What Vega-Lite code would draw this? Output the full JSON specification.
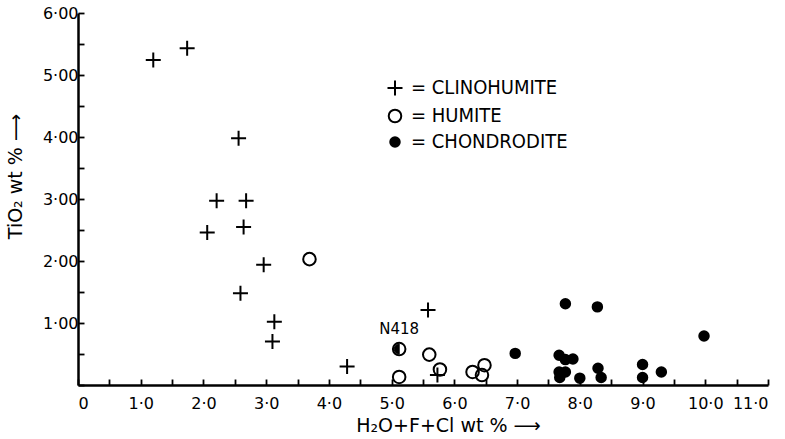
{
  "$schema": "https://vega.github.io/schema/vega-lite/v6.json",
  "width": 690,
  "height": 372,
  "autosize": {"type": "none"},
  "padding": {"left": 78, "top": 13, "right": 17, "bottom": 54},
  "config": {
    "view": {"stroke": null},
    "font": "DejaVu Sans",
    "axis": {
      "grid": false,
      "domainColor": "black",
      "domainWidth": 2.5,
      "tickColor": "black",
      "tickWidth": 1.8,
      "tickSize": -6,
      "labelColor": "black",
      "labelFont": "DejaVu Sans",
      "labelFontSize": 16,
      "titleColor": "black",
      "titleFont": "DejaVu Sans",
      "titleFontWeight": "normal",
      "titleFontSize": 19
    }
  },
  "data": {
    "values": [
      {"type": "Clinohumite", "x": 1.20, "y": 5.24, "label": ""},
      {"type": "Clinohumite", "x": 1.74, "y": 5.43, "label": ""},
      {"type": "Clinohumite", "x": 2.56, "y": 3.98, "label": ""},
      {"type": "Clinohumite", "x": 2.21, "y": 2.97, "label": ""},
      {"type": "Clinohumite", "x": 2.68, "y": 2.97, "label": ""},
      {"type": "Clinohumite", "x": 2.06, "y": 2.46, "label": ""},
      {"type": "Clinohumite", "x": 2.64, "y": 2.55, "label": ""},
      {"type": "Clinohumite", "x": 2.96, "y": 1.94, "label": ""},
      {"type": "Clinohumite", "x": 2.59, "y": 1.48, "label": ""},
      {"type": "Clinohumite", "x": 3.13, "y": 1.02, "label": ""},
      {"type": "Clinohumite", "x": 3.10, "y": 0.70, "label": ""},
      {"type": "Clinohumite", "x": 4.29, "y": 0.30, "label": ""},
      {"type": "Clinohumite", "x": 5.58, "y": 1.21, "label": ""},
      {"type": "Clinohumite", "x": 5.73, "y": 0.16, "label": ""},
      {"type": "Humite", "x": 3.69, "y": 2.03, "label": ""},
      {"type": "Humite", "x": 5.12, "y": 0.58, "label": "N418"},
      {"type": "Humite", "x": 5.60, "y": 0.49, "label": ""},
      {"type": "Humite", "x": 5.12, "y": 0.13, "label": ""},
      {"type": "Humite", "x": 5.77, "y": 0.25, "label": ""},
      {"type": "Humite", "x": 6.29, "y": 0.21, "label": ""},
      {"type": "Humite", "x": 6.48, "y": 0.32, "label": ""},
      {"type": "Humite", "x": 6.44, "y": 0.16, "label": ""},
      {"type": "Chondrodite", "x": 7.77, "y": 1.31, "label": ""},
      {"type": "Chondrodite", "x": 8.28, "y": 1.26, "label": ""},
      {"type": "Chondrodite", "x": 6.97, "y": 0.51, "label": ""},
      {"type": "Chondrodite", "x": 7.67, "y": 0.48, "label": ""},
      {"type": "Chondrodite", "x": 7.77, "y": 0.41, "label": ""},
      {"type": "Chondrodite", "x": 7.89, "y": 0.42, "label": ""},
      {"type": "Chondrodite", "x": 7.67, "y": 0.21, "label": ""},
      {"type": "Chondrodite", "x": 7.77, "y": 0.21, "label": ""},
      {"type": "Chondrodite", "x": 7.68, "y": 0.12, "label": ""},
      {"type": "Chondrodite", "x": 8.00, "y": 0.11, "label": ""},
      {"type": "Chondrodite", "x": 8.29, "y": 0.27, "label": ""},
      {"type": "Chondrodite", "x": 8.34, "y": 0.12, "label": ""},
      {"type": "Chondrodite", "x": 9.00, "y": 0.33, "label": ""},
      {"type": "Chondrodite", "x": 9.00, "y": 0.12, "label": ""},
      {"type": "Chondrodite", "x": 9.30, "y": 0.21, "label": ""},
      {"type": "Chondrodite", "x": 9.98, "y": 0.79, "label": ""}
    ]
  },
  "encoding": {
    "x": {
      "field": "x",
      "type": "quantitative",
      "scale": {"domain": [0, 11], "nice": false, "zero": false},
      "axis": {
        "values": [0, 0.5, 1, 1.5, 2, 2.5, 3, 3.5, 4, 4.5, 5, 5.5, 6, 6.5, 7, 7.5, 8, 8.5, 9, 9.5, 10, 10.5, 11],
        "labelExpr": "datum.value % 1 != 0 ? '' : (datum.value == 0 ? '0' : replace(format(datum.value, '.1f'), '.', '·'))",
        "labelPadding": 16,
        "title": "H₂O+F+Cl wt %  ⟶",
        "titleX": 370,
        "titleY": 40,
        "titleBaseline": "middle"
      }
    },
    "y": {
      "field": "y",
      "type": "quantitative",
      "scale": {"domain": [0, 6], "nice": false, "zero": false},
      "axis": {
        "values": [0, 0.5, 1, 1.5, 2, 2.5, 3, 3.5, 4, 4.5, 5, 5.5, 6],
        "labelExpr": "(datum.value % 1 != 0 || datum.value == 0) ? '' : replace(format(datum.value, '.2f'), '.', '·')",
        "labelPadding": 6,
        "title": "TiO₂ wt %  ⟶",
        "titleAngle": -90,
        "titleX": -63,
        "titleY": 163,
        "titleAlign": "center",
        "titleBaseline": "middle"
      }
    }
  },
  "layer": [
    {
      "mark": {"type": "point", "stroke": "black", "strokeWidth": 2, "opacity": 1},
      "encoding": {
        "shape": {
          "field": "type",
          "type": "nominal",
          "sort": ["Clinohumite", "Humite", "Chondrodite"],
          "scale": {
            "domain": ["Clinohumite", "Humite", "Chondrodite"],
            "range": ["M-1,0H1M0,-1V1", "circle", "circle"]
          },
          "legend": {
            "orient": "none",
            "legendX": 307,
            "legendY": 65,
            "title": null,
            "padding": 0,
            "rowPadding": 5,
            "labelFont": "DejaVu Sans Condensed",
            "labelFontSize": 20,
            "labelLimit": 400,
            "labelColor": "black",
            "labelOffset": 6,
            "symbolStrokeColor": "black",
            "symbolStrokeWidth": 2,
            "labelExpr": "'= ' + upper(datum.label)"
          }
        },
        "fill": {
          "field": "type",
          "type": "nominal",
          "sort": ["Clinohumite", "Humite", "Chondrodite"],
          "scale": {
            "domain": ["Clinohumite", "Humite", "Chondrodite"],
            "range": ["transparent", "transparent", "black"]
          }
        },
        "size": {
          "field": "type",
          "type": "nominal",
          "sort": ["Clinohumite", "Humite", "Chondrodite"],
          "scale": {
            "domain": ["Clinohumite", "Humite", "Chondrodite"],
            "range": [225, 90, 64]
          }
        }
      }
    },
    {
      "transform": [{"filter": "datum.label == 'N418'"}],
      "mark": {
        "type": "point",
        "shape": "M0,-1L-0.383,-0.924L-0.707,-0.707L-0.924,-0.383L-1,0L-0.924,0.383L-0.707,0.707L-0.383,0.924L0,1Z",
        "size": 100,
        "filled": true,
        "fill": "black",
        "stroke": "black",
        "strokeWidth": 1,
        "opacity": 1
      },
      "encoding": {}
    },
    {
      "transform": [{"filter": "datum.label == 'N418'"}],
      "mark": {"type": "text", "dy": -20, "fontSize": 15, "font": "DejaVu Sans", "color": "black"},
      "encoding": {"text": {"field": "label"}}
    }
  ]
}
